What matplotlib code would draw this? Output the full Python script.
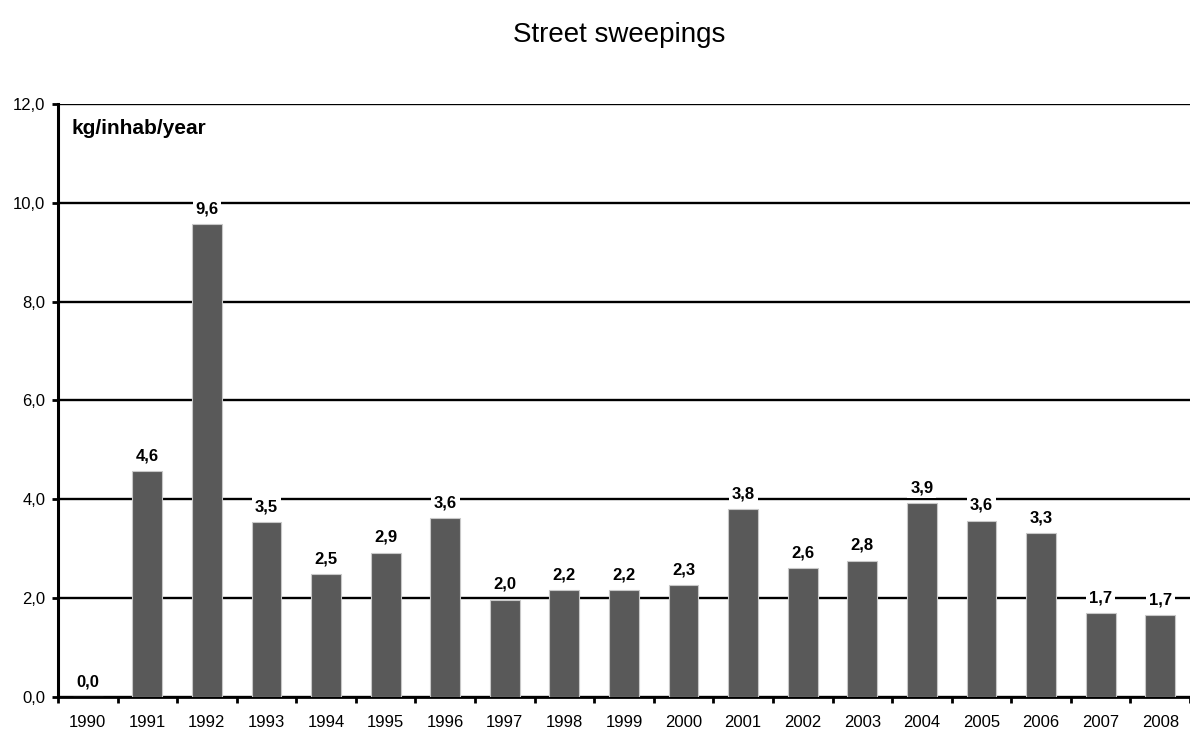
import matplotlib.pyplot as plt
from matplotlib.ticker import FixedLocator

plt.rcParams['font.family'] = ['Liberation Sans', 'DejaVu Sans']

# Street sweepings per inhabitant
years = [str(y) for y in range(1990, 2009)]
values = [0.0, 4.57, 9.56, 3.54, 2.49, 2.92, 3.62, 1.97, 2.16, 2.16,
          2.26, 3.80, 2.61, 2.76, 3.92, 3.57, 3.32, 1.70, 1.66]
yticks = [0, 2, 4, 6, 8, 10, 12]

fig = plt.figure(figsize=(11.9, 7.31), dpi=100)
ax = fig.add_axes([0.0487, 0.0465, 0.9513, 0.8115])

x = list(range(len(years)))
ax.bar(x, values, width=0.5, color='#595959', edgecolor='#c8c8c8',
       linewidth=0.8, zorder=3)

# value labels with white box over the gridlines
for xi, v in zip(x, values):
    ax.annotate(f"{v:.1f}".replace('.', ','), (xi, v), xytext=(0, 11),
                textcoords='offset points', ha='center', va='center',
                fontsize=12, fontweight='bold', zorder=4,
                bbox=dict(facecolor='white', edgecolor='none', pad=2))

ax.set_xlim(-0.5, len(years) - 0.5)
ax.set_ylim(0, 12)

ax.set_yticks(yticks)
ax.set_yticklabels([f"{t:.1f}".replace('.', ',') for t in yticks], fontsize=12)
ax.yaxis.grid(True, color='black', linewidth=1.7, zorder=1)

# year labels centred, tick marks between categories
ax.set_xticks(x)
ax.set_xticklabels(years, fontsize=12)
ax.xaxis.set_minor_locator(FixedLocator([i - 0.5 for i in range(len(years) + 1)]))
ax.tick_params(axis='x', which='major', length=0, pad=13)
ax.tick_params(axis='x', which='minor', length=4, width=2)
ax.tick_params(axis='y', length=4, width=2, pad=5)

for side in ['top', 'right']:
    ax.spines[side].set_visible(False)
ax.spines['left'].set_linewidth(2.2)
ax.spines['bottom'].set_linewidth(2)
ax.set_axisbelow(True)

ax.text(0.0124, 11.38, "kg/inhab/year", transform=ax.get_yaxis_transform(),
        ha='left', va='baseline', fontsize=15, fontweight='bold')

fig.suptitle("Street sweepings", x=0.5206, y=0.970, va='top', fontsize=20)

fig.savefig("out.png", dpi=100)
